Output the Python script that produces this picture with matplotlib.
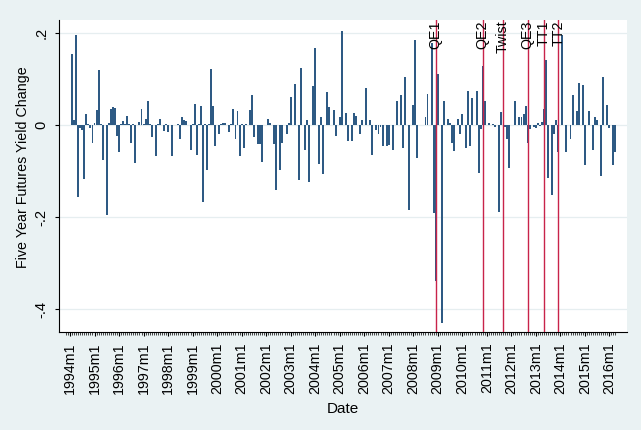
import matplotlib
matplotlib.use("Agg")
import matplotlib.pyplot as plt

plt.rcParams['font.family'] = ['Liberation Sans', 'DejaVu Sans']

# ---- data (monthly changes, first value = 1994m2) ----
start_label = "1994m2"
yield_change = [
    0.154, 0.011, 0.196, -0.157, -0.007, -0.010, -0.118, 0.025, 0.003, -0.007,
    -0.038, 0.004, 0.034, 0.121, 0.003, -0.076, 0.000, -0.196, 0.004, 0.036,
    0.040, 0.038, -0.024, -0.058, 0.003, 0.010, 0.002, 0.021, 0.003, -0.038,
    0.002, -0.083, 0.001, 0.007, 0.036, 0.003, 0.014, 0.052, 0.002, -0.025,
    0.001, -0.067, 0.002, 0.014, 0.001, -0.012, 0.002, -0.014, 0.001, -0.067,
    0.000, 0.000, 0.002, -0.030, 0.017, 0.011, 0.009, 0.000, -0.053, 0.002,
    0.046, -0.065, 0.002, 0.042, -0.168, 0.003, -0.098, 0.002, 0.123, 0.042,
    -0.046, 0.000, -0.020, 0.002, 0.004, 0.004, 0.000, -0.014, 0.002, 0.036,
    -0.030, 0.031, -0.067, 0.002, -0.050, 0.002, 0.000, 0.033, 0.065, -0.025,
    0.000, -0.040, -0.041, -0.081, 0.000, 0.000, 0.014, 0.004, 0.000, -0.040,
    -0.141, 0.000, -0.098, -0.038, 0.000, -0.020, 0.004, 0.062, 0.000, 0.089,
    0.000, -0.120, 0.125, 0.000, -0.054, 0.012, -0.123, 0.000, 0.086, 0.169,
    0.000, -0.085, 0.017, -0.107, 0.000, 0.072, 0.040, 0.000, 0.034, -0.024,
    0.000, 0.017, 0.205, 0.000, 0.027, -0.034, 0.000, -0.034, 0.027, 0.020,
    0.000, -0.020, 0.011, 0.000, 0.081, 0.000, 0.012, -0.065, 0.000, -0.011,
    -0.020, -0.003, -0.046, 0.000, -0.046, -0.043, 0.000, -0.054, 0.000, 0.053,
    0.000, 0.065, -0.050, 0.105, 0.000, -0.185, 0.000, 0.045, 0.185, -0.071,
    0.000, 0.000, 0.000, 0.017, 0.067, 0.000, 0.178, -0.192, -0.340, 0.111,
    0.000, -0.431, 0.053, 0.000, 0.014, 0.004, -0.038, -0.056, 0.000, 0.014,
    -0.020, 0.025, 0.000, -0.050, 0.074, -0.046, 0.060, 0.000, 0.074, -0.104,
    -0.009, 0.128, 0.053, 0.000, 0.004, 0.000, 0.002, -0.005, 0.000, -0.188,
    0.028, 0.000, -0.005, -0.029, -0.094, 0.000, 0.000, 0.053, 0.000, 0.018,
    0.017, 0.025, 0.042, -0.038, -0.009, 0.000, -0.004, -0.007, 0.004, -0.002,
    0.006, 0.036, 0.141, -0.114, 0.000, -0.152, -0.020, 0.012, -0.058, 0.000,
    0.196, 0.000, -0.058, 0.000, -0.029, 0.065, 0.000, 0.030, 0.092, 0.000,
    0.088, -0.086, 0.000, 0.030, 0.000, -0.053, 0.017, 0.011, 0.000, -0.110,
    0.105, 0.000, 0.043, -0.006, 0.000, -0.087, -0.058,
]
event_names = ["QE1", "QE2", "Twist", "QE3", "TT1", "TT2"]
event_dates = ["2008m12", "2010m11", "2011m9", "2012m9", "2013m5", "2013m12"]
xtick_labels = [f"{y}m1" for y in range(1994, 2017)]
ytick_values = [-0.4, -0.2, 0.0, 0.2]
ytick_labels = ["-.4", "-.2", "0", ".2"]
ylabel_text = "Five Year Futures Yield Change"
xlabel_text = "Date"


def tm(s):
    """Stata-style monthly date -> months since 1994m1."""
    y, m = s.split("m")
    return (int(y) - 1994) * 12 + int(m) - 1


x0 = tm(start_label)
months = [x0 + i for i in range(len(yield_change))]

W, H = 641, 430
fig = plt.figure(figsize=(W / 100, H / 100), dpi=100, facecolor="#EAF2F3")
L, R, T, B = 59.3, 626.7, 20.0, 332.3
ax = fig.add_axes([L / W, 1 - B / H, (R - L) / W, (B - T) / H])
ax.set_facecolor("white")

ax.set_axisbelow(True)
ax.yaxis.grid(True, color="#E6EEF0", linewidth=0.9)

ax.bar(months, yield_change, width=0.95, color="#2E5A84", linewidth=0, zorder=2)

ax.set_ylim(-0.4507, 0.2289)
ax.set_xlim(-5.24, 272.5)

top = ax.get_ylim()[1]
for name, d in zip(event_names, event_dates):
    xv = tm(d)
    ax.axvline(xv, color="#C8234A", linewidth=1.0, zorder=3)
    ax.text(xv, top, name, rotation=90, ha="center", va="top",
            fontsize=10.3, color="black", zorder=4)

# axes styling
for s in ["top", "right"]:
    ax.spines[s].set_visible(False)
for s in ["left", "bottom"]:
    ax.spines[s].set_color("black")
    ax.spines[s].set_linewidth(0.8)

ax.set_yticks(ytick_values)
ax.set_yticklabels(ytick_labels, rotation=90, va="center", fontsize=10.5)
ax.tick_params(axis="y", length=3.2, width=0.8, pad=4.5)

major_x = [tm(l) for l in xtick_labels]
ax.set_xticks(major_x)
ax.set_xticklabels(xtick_labels, rotation=90, fontsize=10.3)
ax.set_xticks(list(range(-2, 268)), minor=True)
ax.tick_params(axis="x", which="major", length=3.2, width=0.8, pad=4)
ax.tick_params(axis="x", which="minor", length=1.8, width=0.5)

ax.set_ylabel(ylabel_text, fontsize=10.3, labelpad=4)
ax.yaxis.set_label_coords(-0.052, 0.53)
ax.set_xlabel(xlabel_text, fontsize=11, labelpad=6)

fig.savefig("out.png", dpi=100, facecolor=fig.get_facecolor())
